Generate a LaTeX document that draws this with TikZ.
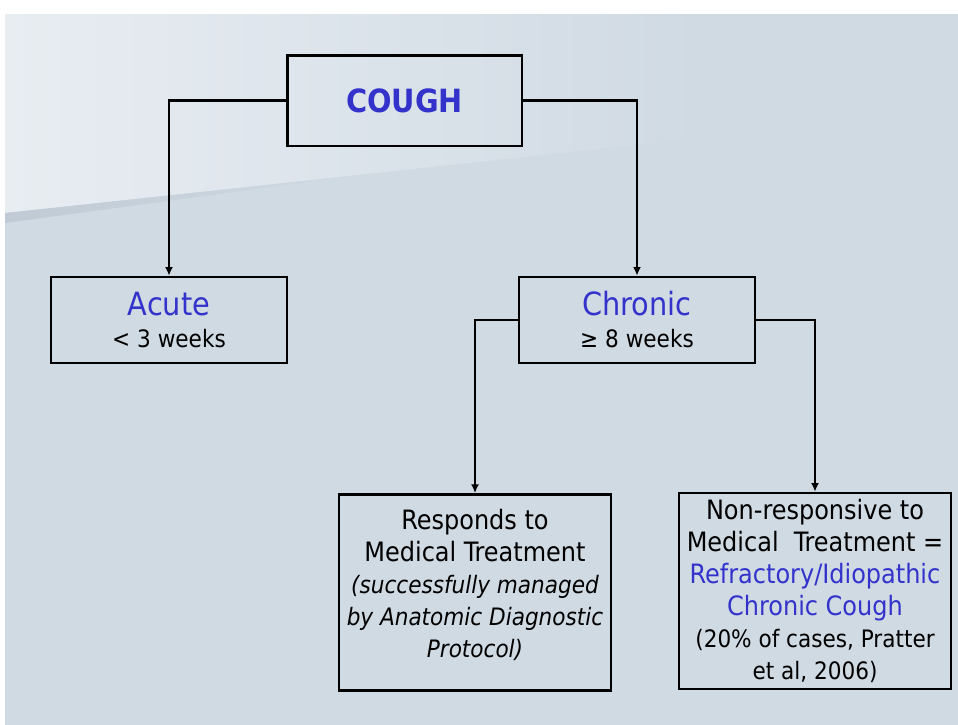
\documentclass[tikz,border=0pt]{standalone}
\usepackage{fontspec}
\setmainfont{DejaVu Sans Condensed}
\usetikzlibrary{positioning, arrows.meta}

\definecolor{slidebg}{RGB}{208,218,227}
\definecolor{slidelight}{RGB}{232,237,242}
\definecolor{slidedark}{RGB}{192,202,213}
\definecolor{termblue}{RGB}{51,51,204}

\begin{document}
\begin{tikzpicture}[
    x=0.75pt, y=-0.75pt,
    >={Latex[length=6.5pt,width=6pt]},
    box/.style={
        draw, rectangle, line width=2pt, align=center,
        inner sep=2pt, font=\fontsize{20}{24}\selectfont
    },
    link/.style={->, line width=1.6pt}
]

% -------------------------
% Slide background
% -------------------------
\fill[white] (0,0) rectangle (958,725);
\fill[slidebg] (5,14) rectangle (958,725);
\shade[left color=slidelight, right color=slidebg]
    (5,14) -- (700,14) -- (700,138) -- (5,213) -- cycle;
\shade[left color=slidedark, right color=slidebg]
    (5,213) -- (360,175) -- (5,223) -- cycle;
\useasboundingbox (0,0) rectangle (958,725);

% -------------------------
% Boxes
% -------------------------

% Top
\node[box, minimum width=176pt, minimum height=68pt,
      font=\fontsize{24}{28}\selectfont\bfseries, text=termblue]
    (cough) at (404.5,100.5) {COUGH};

% Second level
\node[box, minimum width=177pt, minimum height=64.5pt] (acute) at (169,320) {
    {\fontsize{24}{26}\selectfont\color{termblue}Acute}\\
    {\fontsize{18}{22}\selectfont < 3 weeks}
};

\node[box, minimum width=177pt, minimum height=64.5pt] (chronic) at (637,320) {
    {\fontsize{24}{26}\selectfont\color{termblue}Chronic}\\
    {\fontsize{18}{22}\selectfont ≥ 8 weeks}
};

% Third level (left text hangs from the top of its box)
\node[box, minimum width=204pt, minimum height=147pt, anchor=north,
      label={[anchor=north, align=center, inner sep=0pt,
              label distance=-12pt, font=\fontsize{20}{24}\selectfont]north:
        Responds to\\
        Medical Treatment\\
        {\fontsize{18}{22}\selectfont\itshape (successfully managed}\\
        {\fontsize{18}{22}\selectfont\itshape by Anatomic Diagnostic}\\
        {\fontsize{18}{22}\selectfont\itshape Protocol)}}]
    (responds) at (475,493) {};

\node[box, minimum width=204pt, minimum height=147pt] (refractory) at (815,591) {
    Non-responsive to\\
    Medical~~Treatment =\\
    \textcolor{termblue}{Refractory/Idiopathic}\\
    \textcolor{termblue}{Chronic Cough}\\
    {\fontsize{18}{22}\selectfont (20\% of cases, Pratter}\\
    {\fontsize{18}{22}\selectfont et al, 2006)}
};

% -------------------------
% Connections
% -------------------------
\draw[link] (cough.west) -| (acute.north);
\draw[link] (cough.east) -| (chronic.north);
\draw[link] (chronic.west) -| (responds.north);
\draw[link] (chronic.east) -| (refractory.north);

\end{tikzpicture}
\end{document}
